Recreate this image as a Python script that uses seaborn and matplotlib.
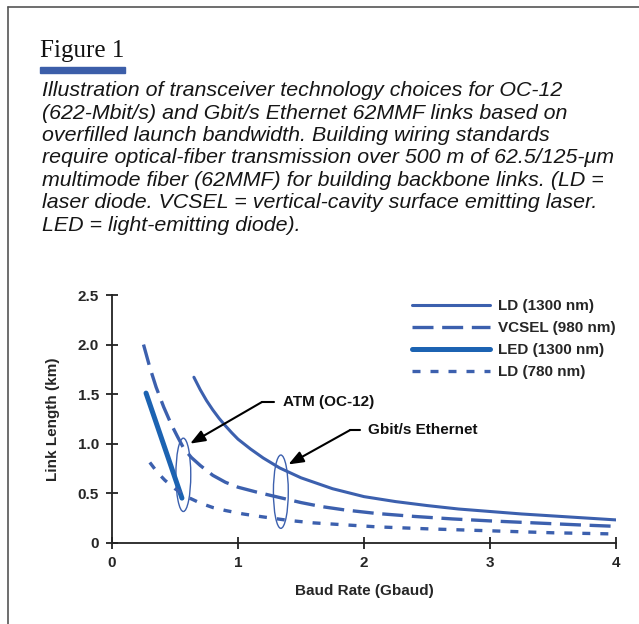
import matplotlib
matplotlib.use("Agg")
import matplotlib.pyplot as plt
import seaborn as sns
import pandas as pd
from matplotlib import font_manager
from matplotlib.patches import Ellipse, Rectangle
from matplotlib.lines import Line2D

# data
ld1300_x = [0.65, 0.7, 0.75, 0.8, 0.85, 0.9, 0.95, 1.0, 1.1, 1.2, 1.33, 1.5, 1.75,
            2.0, 2.25, 2.5, 2.75, 3.0, 3.25, 3.5, 3.75, 4.0]
ld1300_y = [1.67, 1.545, 1.435, 1.34, 1.255, 1.18, 1.11, 1.045, 0.945, 0.855, 0.755, 0.655,
            0.545, 0.465, 0.415, 0.375, 0.34, 0.315, 0.29, 0.27, 0.25, 0.23]

vcsel_x = [0.25, 0.3, 0.35, 0.41, 0.47, 0.52, 0.57, 0.63, 0.7, 0.8, 0.9, 1.0, 1.15,
           1.35, 1.5, 1.66, 1.85, 2.1, 2.4, 2.7, 3.0, 3.35, 3.7, 4.0]
vcsel_y = [2.0, 1.77, 1.57, 1.37, 1.195, 1.07, 0.95, 0.86, 0.78, 0.68, 0.61, 0.56, 0.51,
           0.45, 0.405, 0.365, 0.33, 0.295, 0.265, 0.24, 0.22, 0.2, 0.18, 0.165]

led_x = [0.27, 0.41, 0.555]
led_y = [1.51, 0.99, 0.45]

ld780_x = [0.3, 0.36, 0.42, 0.5, 0.6, 0.7, 0.8, 0.9, 1.04, 1.2, 1.4, 1.6, 1.85, 2.1,
           2.5, 3.0, 3.5, 4.0]
ld780_y = [0.81, 0.71, 0.63, 0.545, 0.46, 0.40, 0.355, 0.325, 0.29, 0.26, 0.225, 0.2,
           0.18, 0.16, 0.14, 0.12, 0.10, 0.088]

series_names = ["LD (1300 nm)", "VCSEL (980 nm)", "LED (1300 nm)", "LD (780 nm)"]

# circled groups and their call-outs
group_centers = [(0.566, 0.685), (1.34, 0.515)]
group_labels = ["ATM (OC-12)", "Gbit/s Ethernet"]
arrow_tips = [(0.62, 1.0), (1.40, 0.79)]
arrow_elbows = [(1.19, 1.42), (1.89, 1.137)]
label_pos = [(1.355, 1.42), (2.035, 1.137)]

xticks = [0, 1, 2, 3, 4]
yticks = [0, 0.5, 1.0, 1.5, 2.0, 2.5]
ytick_labels = ["0", "0.5", "1.0", "1.5", "2.0", "2.5"]

caption = ("Illustration of transceiver technology choices for OC-12\n"
           "(622-Mbit/s) and Gbit/s Ethernet 62MMF links based on\n"
           "overfilled launch bandwidth. Building wiring standards\n"
           "require optical-fiber transmission over 500 m of 62.5/125-\u03bcm\n"
           "multimode fiber (62MMF) for building backbone links. (LD =\n"
           "laser diode. VCSEL = vertical-cavity surface emitting laser.\n"
           "LED = light-emitting diode).")

sns.set_style("ticks")
names = {f.name for f in font_manager.fontManager.ttflist}
narrow = "Liberation Sans Narrow" if "Liberation Sans Narrow" in names else "Liberation Sans"
plt.rcParams["font.family"] = [narrow, "DejaVu Sans"]

blue = "#3c60ae"
led_blue = "#1c63b2"
dark = "#222222"

fig = plt.figure(figsize=(6.39, 6.24), dpi=100)
ax = fig.add_axes([0.1753, 0.1303, 0.7887, 0.3969])

styles = [
    (ld1300_x, ld1300_y, blue, 2.2, "-"),
    (vcsel_x, vcsel_y, blue, 2.4, (0, (6.3, 2.6))),
    (led_x, led_y, led_blue, 3.6, "-"),
    (ld780_x, ld780_y, blue, 2.4, (0, (2.4, 3.0))),
]
handles = []
for name, (xs, ys, col, lw, ls) in zip(series_names, styles):
    df = pd.DataFrame({"rate": xs, "length": ys})
    sns.lineplot(data=df, x="rate", y="length", ax=ax, color=col, lw=lw,
                 linestyle=ls, sort=False, estimator=None)
    handles.append(Line2D([], [], color=col, lw=lw, linestyle=ls))

for cx, cy in group_centers:
    ax.add_patch(Ellipse((cx, cy), 0.118, 0.74, fill=False, edgecolor=blue, lw=1.0))

for lab, tip, elb, pos in zip(group_labels, arrow_tips, arrow_elbows, label_pos):
    ax.annotate("", xy=tip, xytext=elb,
                arrowprops=dict(arrowstyle="-|>,head_length=0.9,head_width=0.35",
                                color="black", lw=1.5, shrinkA=0, shrinkB=0))
    ax.plot([elb[0], pos[0] - 0.07], [elb[1], elb[1]], color="black", lw=1.5)
    ax.text(pos[0], pos[1], lab, ha="left", va="center", fontsize=11,
            fontweight="bold", color="#111111")

ax.set_xlim(0, 4)
ax.set_ylim(0, 2.5)
ax.set_xticks(xticks)
ax.set_xticklabels([str(t) for t in xticks])
ax.set_yticks(yticks)
ax.set_yticklabels(ytick_labels)
ax.tick_params(direction="inout", length=9, width=1.3, color=dark,
               labelsize=11, pad=5)
for lab in ax.get_xticklabels() + ax.get_yticklabels():
    lab.set_fontweight("bold")
for side in ["top", "right"]:
    ax.spines[side].set_visible(False)
for side in ["left", "bottom"]:
    ax.spines[side].set_color(dark)
    ax.spines[side].set_linewidth(1.3)

ax.set_xlabel("Baud Rate (Gbaud)", fontsize=11, fontweight="bold", labelpad=10)
ax.set_ylabel("Link Length (km)", fontsize=11, fontweight="bold", labelpad=13)

ax.legend(handles, series_names, loc="upper left", bbox_to_anchor=(0.6448, 0.521),
          bbox_transform=fig.transFigure, frameon=False,
          handlelength=5.1, handletextpad=0.55, labelspacing=0.53, borderpad=0,
          borderaxespad=0, prop=dict(weight="bold", size=11))

# header
fig.text(0.0626, 0.909, "Figure 1", family=["Liberation Serif", "DejaVu Serif"],
         fontsize=18, va="baseline", ha="left", color="#111111")
fig.patches.append(Rectangle((0.0626, 0.883), 0.133, 0.0096, transform=fig.transFigure,
                             color="#3c5ea9", figure=fig))
fig.text(0.0657, 0.870, caption, style="italic", fontsize=15.4, va="top", ha="left",
         linespacing=1.23, color="#161616")

# frame (top and left rules)
fig.add_artist(Line2D([0.0125, 1.0], [0.988, 0.988], transform=fig.transFigure,
                      color="#555555", lw=1.2))
fig.add_artist(Line2D([0.0125, 0.0125], [0.0, 0.988], transform=fig.transFigure,
                      color="#555555", lw=1.2))

fig.savefig("out.png", dpi=100)
